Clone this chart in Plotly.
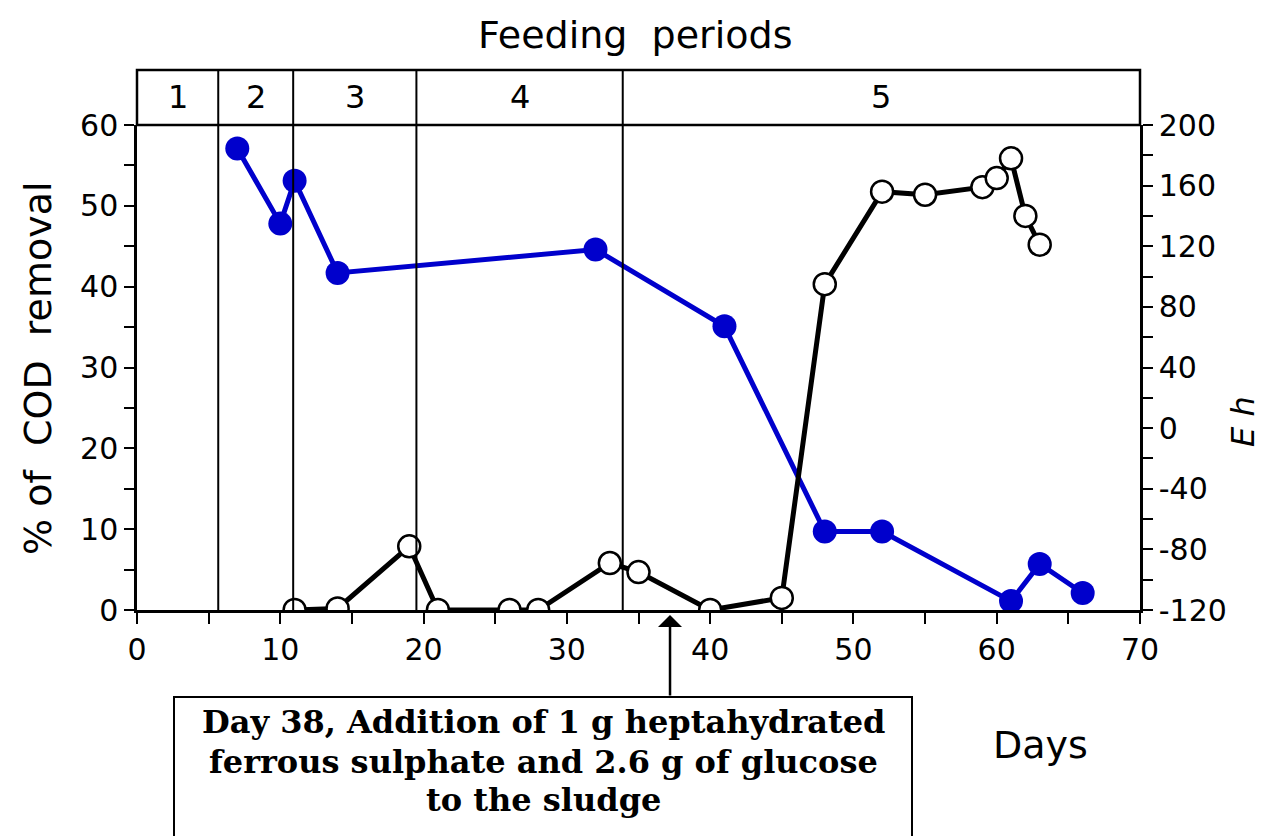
import plotly.graph_objects as go

# COD removal (%), left axis
cod_days = [7, 10, 11, 14, 32, 41, 48, 52, 61, 63, 66]
cod_removal = [57.1, 47.8, 53.1, 41.7, 44.6, 35.1, 9.7, 9.7, 1.1, 5.7, 2.1]

# Eh (mV), right axis
eh_days = [11, 14, 19, 21, 26, 28, 33, 35, 40, 45, 48, 52, 55, 59, 60, 61, 62, 63]
eh_values = [-120, -119, -78, -120, -120, -120, -89, -95, -120, -112, 95, 156, 154, 159, 165, 178, 140, 121]

# Feeding periods
period_bounds = [0, 5.67, 10.9, 19.5, 33.9, 70]
period_labels = ["1", "2", "3", "4", "5"]

x_ticks = [0, 10, 20, 30, 40, 50, 60, 70]
left_ticks = [0, 10, 20, 30, 40, 50, 60]
right_ticks = [-120, -80, -40, 0, 40, 80, 120, 160, 200]

annotation_day = 37.2
annotation_lines = ["Day 38, Addition of 1 g heptahydrated",
                    "ferrous sulphate and 2.6 g of glucose",
                    "to the sludge"]

BLUE = "#0000CC"
TICKFONT = dict(family="DejaVu Sans", size=30, color="black")
TITLEFONT = dict(family="DejaVu Sans", size=38, color="black")

# plot area in page pixels: x 137..1140, y 125..610 (page has 8px body margin)
PW, PH = 1003, 485
band_top = 1 + 55 / PH


def px_x(p):
    return (p - 137) / PW


def px_y(p):
    return (610 - p) / PH


fig = go.Figure()
fig.add_trace(go.Scatter(
    x=cod_days, y=cod_removal, mode="lines+markers",
    line=dict(color=BLUE, width=5),
    marker=dict(color=BLUE, size=24, line=dict(width=0)),
    yaxis="y", showlegend=False))
fig.add_trace(go.Scatter(
    x=eh_days, y=eh_values, mode="lines+markers",
    line=dict(color="black", width=5),
    marker=dict(color="white", size=22, line=dict(color="black", width=2.5)),
    yaxis="y2", showlegend=False))

shapes = []
shapes.append(dict(type="rect", xref="paper", yref="paper", x0=0, x1=1, y0=1, y1=band_top,
                   line=dict(color="black", width=2.5), fillcolor="rgba(0,0,0,0)"))
for b in period_bounds[1:-1]:
    shapes.append(dict(type="line", xref="x", yref="paper", x0=b, x1=b, y0=0, y1=band_top,
                       line=dict(color="black", width=2)))
shapes.append(dict(type="rect", xref="paper", yref="paper",
                   x0=px_x(174), x1=px_x(912), y0=px_y(697), y1=px_y(870),
                   line=dict(color="black", width=2), fillcolor="white"))

annotations = []
for i, lab in enumerate(period_labels):
    cx = (period_bounds[i] + period_bounds[i + 1]) / 2
    annotations.append(dict(x=cx, y=px_y(97), xref="x", yref="paper", text=lab,
                            xanchor="center", yanchor="middle", showarrow=False,
                            font=dict(family="DejaVu Sans", size=32, color="black")))
annotations.append(dict(x=px_x(635), y=px_y(35), xref="paper", yref="paper",
                        text="Feeding  periods", xanchor="center", yanchor="middle",
                        showarrow=False, font=TITLEFONT))
annotations.append(dict(x=px_x(1040), y=px_y(745), xref="paper", yref="paper",
                        text="Days", xanchor="center", yanchor="middle",
                        showarrow=False, font=TITLEFONT))
annotations.append(dict(x=px_x(38), y=px_y(368), xref="paper", yref="paper",
                        text="% of  COD  removal", textangle=-90, xanchor="center", yanchor="middle",
                        showarrow=False, font=TITLEFONT))
annotations.append(dict(x=px_x(1243), y=px_y(422), xref="paper", yref="paper",
                        text="<i>E h</i>", textangle=-90, xanchor="center", yanchor="middle",
                        showarrow=False, font=dict(family="DejaVu Sans", size=32, color="black")))
annotations.append(dict(x=annotation_day, y=px_y(615), xref="x", yref="paper", text="",
                        showarrow=True, arrowhead=1, arrowsize=1.6, arrowwidth=2.5,
                        arrowcolor="black", ax=0, ay=82))
line_y = [722, 762, 800]
for txt, py in zip(annotation_lines, line_y):
    annotations.append(dict(x=px_x(543), y=px_y(py), xref="paper", yref="paper",
                            text="<b>" + txt + "</b>", xanchor="center", yanchor="middle",
                            showarrow=False,
                            font=dict(family="DejaVu Serif", size=32, color="black")))

fig.update_layout(
    width=1258, height=828,
    margin=dict(l=129, r=126, t=117, b=226),
    paper_bgcolor="white", plot_bgcolor="white",
    shapes=shapes, annotations=annotations,
    xaxis=dict(range=[0, 70], tickvals=x_ticks, ticktext=[str(v) for v in x_ticks],
               showgrid=False, zeroline=False, showline=True, linecolor="black", linewidth=2.5,
               ticks="outside", ticklen=11, tickwidth=2, tickcolor="black", tickfont=TICKFONT,
               minor=dict(dtick=5, ticks="outside", ticklen=11, tickwidth=2, tickcolor="black")),
    yaxis=dict(range=[0, 60], tickvals=left_ticks, ticktext=[str(v) for v in left_ticks],
               showgrid=False, zeroline=False, showline=True, linecolor="black", linewidth=2.5,
               ticks="outside", ticklen=10, tickwidth=2, tickcolor="black", tickfont=TICKFONT,
               minor=dict(dtick=5, ticks="outside", ticklen=10, tickwidth=2, tickcolor="black")),
    yaxis2=dict(range=[-120, 200], overlaying="y", side="right",
                tickvals=right_ticks, ticktext=[str(v) for v in right_ticks],
                showgrid=False, zeroline=False, showline=True, linecolor="black", linewidth=2.5,
                ticks="outside", ticklen=10, tickwidth=2, tickcolor="black", tickfont=TICKFONT,
                minor=dict(dtick=20, ticks="outside", ticklen=10, tickwidth=2, tickcolor="black")),
)

fig.write_html("out.html")
